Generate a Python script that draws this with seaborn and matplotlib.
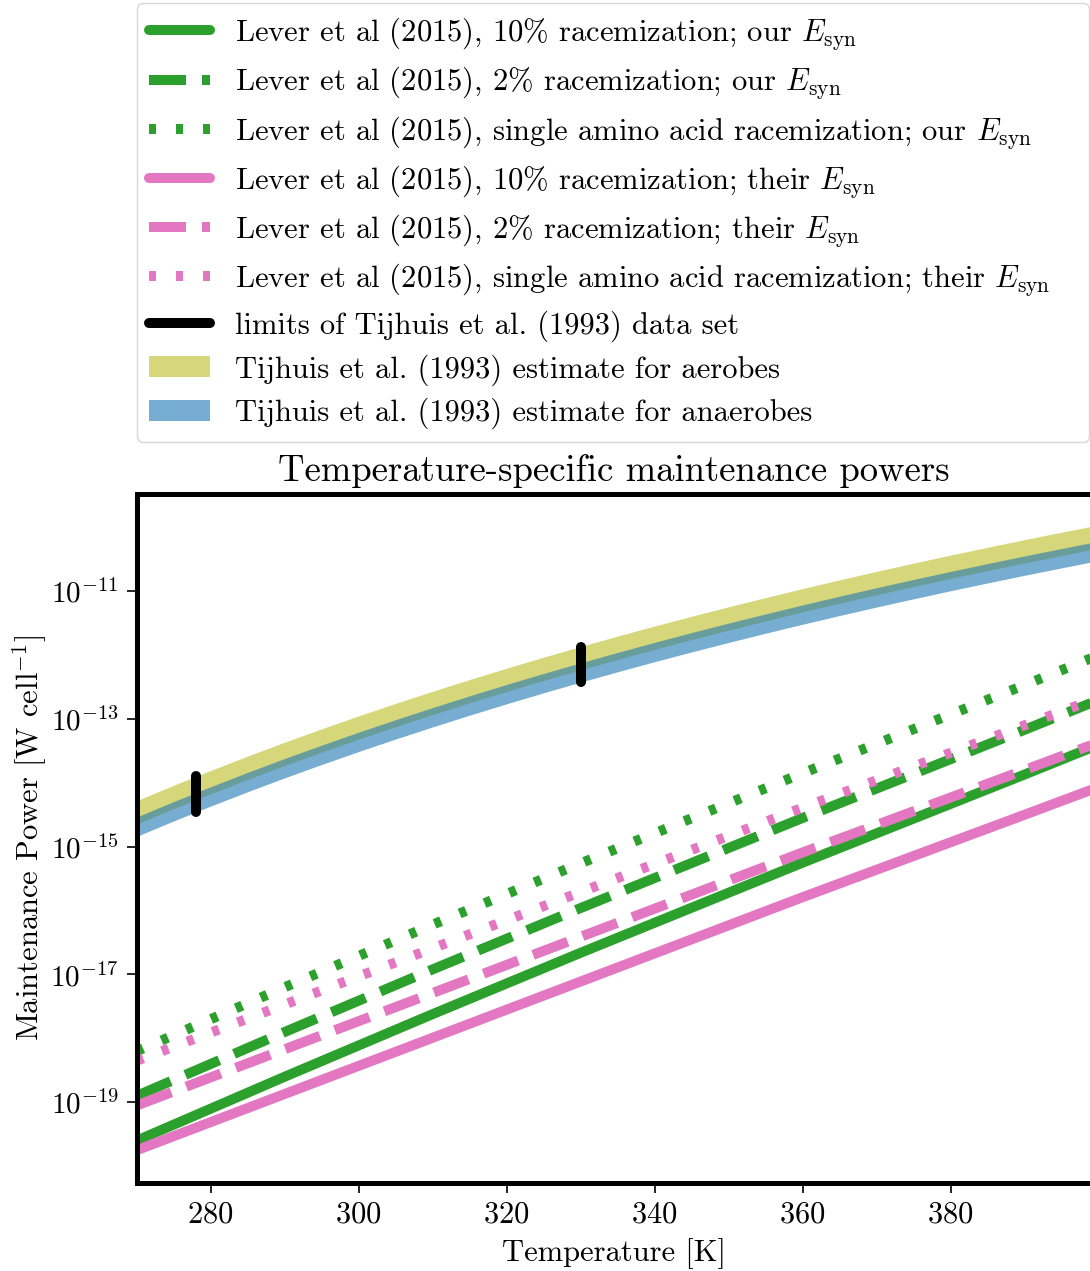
import numpy as np
import matplotlib
matplotlib.use("Agg")
import matplotlib.pyplot as plt
import seaborn as sns
from matplotlib.ticker import FixedLocator, LogFormatterSciNotation, NullLocator

# ---------------- data (log10 of W/cell) ----------------
# Tijhuis et al. (1993) bands
T_band = [270, 275, 280, 285, 290, 295, 300, 305, 310, 315, 320, 325, 330, 335,
          340, 345, 350, 355, 360, 365, 370, 375, 380, 385, 390, 395, 399]
aer_hi_log = [-14.281, -14.039, -13.807, -13.582, -13.365, -13.156, -12.953, -12.757, -12.568,
              -12.384, -12.206, -12.034, -11.867, -11.705, -11.547, -11.394, -11.246, -11.102,
              -10.961, -10.825, -10.692, -10.563, -10.437, -10.315, -10.195, -10.079, -9.988]
aer_lo_log = [-14.646, -14.404, -14.172, -13.947, -13.730, -13.521, -13.318, -13.122, -12.933,
              -12.749, -12.571, -12.399, -12.232, -12.070, -11.912, -11.759, -11.611, -11.467,
              -11.326, -11.190, -11.057, -10.928, -10.802, -10.680, -10.560, -10.444, -10.353]
ana_hi_log = [-14.536, -14.294, -14.062, -13.837, -13.620, -13.411, -13.208, -13.012, -12.823,
              -12.639, -12.461, -12.289, -12.122, -11.960, -11.802, -11.649, -11.501, -11.357,
              -11.216, -11.080, -10.947, -10.818, -10.692, -10.570, -10.450, -10.334, -10.243]
ana_lo_log = [-14.839, -14.597, -14.365, -14.140, -13.923, -13.714, -13.511, -13.315, -13.126,
              -12.942, -12.764, -12.592, -12.425, -12.263, -12.105, -11.952, -11.804, -11.660,
              -11.519, -11.383, -11.250, -11.121, -10.995, -10.873, -10.753, -10.637, -10.546]

# Lever et al (2015) lines, "our E_syn" (green) and "their E_syn" (pink)
T = [270, 280, 290, 300, 310, 320, 330, 340, 350, 360, 370, 380, 390, 399]
our_10_log = [-19.60, -19.10, -18.60, -18.11, -17.62, -17.14, -16.66, -16.19, -15.72, -15.25, -14.79, -14.33, -13.87, -13.45]
our_2_log = [-18.90, -18.40, -17.90, -17.41, -16.92, -16.44, -15.96, -15.49, -15.02, -14.55, -14.09, -13.63, -13.17, -12.75]
our_single_log = [-18.20, -17.70, -17.20, -16.71, -16.22, -15.74, -15.26, -14.79, -14.32, -13.85, -13.39, -12.93, -12.47, -12.05]
their_10_log = [-19.75, -19.31, -18.87, -18.43, -17.99, -17.55, -17.11, -16.67, -16.23, -15.79, -15.36, -14.93, -14.50, -14.11]
their_2_log = [-19.05, -18.61, -18.17, -17.73, -17.29, -16.85, -16.41, -15.97, -15.53, -15.09, -14.66, -14.23, -13.80, -13.41]
their_single_log = [-18.35, -17.91, -17.47, -17.03, -16.59, -16.15, -15.71, -15.27, -14.83, -14.39, -13.96, -13.53, -13.10, -12.71]

# limits of the Tijhuis data set
limit_T = [278, 330]
limit_lo_log = [-14.46, -12.43]
limit_hi_log = [-13.90, -11.87]

y_tick_exponents = [-19, -17, -15, -13, -11]
x_ticks = [280, 300, 320, 340, 360, 380]

labels = [
    r"Lever et al (2015), 10% racemization; our $E_{\mathrm{syn}}$",
    r"Lever et al (2015), 2% racemization; our $E_{\mathrm{syn}}$",
    r"Lever et al (2015), single amino acid racemization; our $E_{\mathrm{syn}}$",
    r"Lever et al (2015), 10% racemization; their $E_{\mathrm{syn}}$",
    r"Lever et al (2015), 2% racemization; their $E_{\mathrm{syn}}$",
    r"Lever et al (2015), single amino acid racemization; their $E_{\mathrm{syn}}$",
    "limits of Tijhuis et al. (1993) data set",
    "Tijhuis et al. (1993) estimate for aerobes",
    "Tijhuis et al. (1993) estimate for anaerobes",
]

# ---------------- style ----------------
sns.set_theme(style="ticks")
plt.rcParams.update({
    "font.family": ["cmr10", "DejaVu Serif"],
    "mathtext.fontset": "cm",
    "axes.formatter.use_mathtext": True,
    "axes.unicode_minus": True,
    "axes.edgecolor": "black",
    "xtick.color": "black",
    "ytick.color": "black",
    "text.color": "black",
    "axes.labelcolor": "black",
})

FS = 22
LW = 7.2
GREEN = "#2ca02c"
PINK = "#e377c2"
DOT = (0, (0.7, 2.0))

W, H = 1090, 1271
fig = plt.figure(figsize=(W / 100, H / 100), dpi=100)
ax = fig.add_axes([136.7 / W, (H - 1183) / H, (1091.4 - 136.7) / W, (1183 - 494) / H])

p = lambda v: 10.0 ** np.array(v, dtype=float)
Tb = np.array(T_band, dtype=float)
Ta = np.array(T, dtype=float)

# bands (anaerobes drawn over aerobes)
band_aer = ax.fill_between(Tb, p(aer_lo_log), p(aer_hi_log), color="tab:olive", alpha=0.6, lw=0)
band_ana = ax.fill_between(Tb, p(ana_lo_log), p(ana_hi_log), color="tab:blue", alpha=0.6, lw=0)

# Lever lines
series = [
    (our_10_log, GREEN, "-"),
    (our_2_log, GREEN, "--"),
    (our_single_log, GREEN, DOT),
    (their_10_log, PINK, "-"),
    (their_2_log, PINK, "--"),
    (their_single_log, PINK, DOT),
]
handles = []
for vals, col, ls in series:
    sns.lineplot(x=Ta, y=p(vals), ax=ax, color=col, lw=LW, linestyle=ls,
                 estimator=None, legend=False, sort=False)
    handles.append(ax.lines[-1])

# limits
for t, lo, hi in zip(limit_T, limit_lo_log, limit_hi_log):
    sns.lineplot(x=[t, t], y=[10.0 ** lo, 10.0 ** hi], ax=ax, color="black", lw=LW,
                 estimator=None, legend=False, sort=False, solid_capstyle="round")
lim_handle = ax.lines[-1]
handles += [lim_handle, band_aer, band_ana]

ax.set_yscale("log")
ax.set_xlim(270, 399)
ax.set_ylim(10 ** -20.263, 10 ** -9.482)
ax.yaxis.set_major_locator(FixedLocator([10.0 ** e for e in y_tick_exponents]))
ax.yaxis.set_major_formatter(LogFormatterSciNotation())
ax.yaxis.set_minor_locator(NullLocator())
ax.set_xticks(x_ticks)
ax.tick_params(axis="both", which="major", length=7, width=1.2, color="black", pad=6)
ax.tick_params(axis="x", labelsize=FS)
ax.tick_params(axis="y", labelsize=21)

for s in ax.spines.values():
    s.set_linewidth(3.6)
    s.set_color("black")

ax.set_xlabel("Temperature [K]", fontsize=FS, labelpad=7)
ax.set_ylabel(r"Maintenance Power [W cell$^{-1}$]", fontsize=FS, labelpad=1)
ax.set_title("Temperature-specific maintenance powers", fontsize=FS * 1.2, pad=9)

fig.legend(handles, labels, loc="upper left", mode="expand",
           bbox_to_anchor=(137 / W, 0, (1089 - 137) / W, 1 - 3 / H),
           bbox_transform=fig.transFigure,
           fontsize=FS, handlelength=2.0, handleheight=0.7, labelspacing=0.4,
           borderaxespad=0, frameon=True, framealpha=0.8, edgecolor="0.8", fancybox=True)

fig.savefig("out.png", dpi=100)
